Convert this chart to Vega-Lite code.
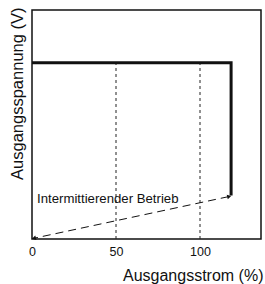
{
  "$schema": "https://vega.github.io/schema/vega-lite/v6.json",
  "width": 229,
  "height": 229,
  "autosize": {"type": "none"},
  "padding": {"left": 32, "top": 10, "right": 4, "bottom": 45},
  "background": "white",
  "config": {
    "font": "Liberation Sans",
    "view": {"stroke": "#111", "strokeWidth": 1.5}
  },
  "datasets": {
    "curve": [
      {"i": 0, "x": 0, "y": 77},
      {"i": 1, "x": 118.5, "y": 77},
      {"i": 2, "x": 118.5, "y": 19}
    ],
    "grid": [
      {"x": 50, "y0": 0, "y1": 77},
      {"x": 100, "y0": 0, "y1": 77}
    ],
    "intermittent": [
      {"i": 0, "x": 117, "y": 18.5},
      {"i": 1, "x": 1, "y": 0.3}
    ],
    "arrows": [
      {"x": 117, "y": 18.5, "angle": 77},
      {"x": 1.5, "y": 0.4, "angle": 257}
    ],
    "labels": [
      {"x": 3, "y": 17.5, "text": "Intermittierender Betrieb"}
    ]
  },
  "layer": [
    {
      "data": {"name": "grid"},
      "mark": {"type": "rule", "strokeDash": [3, 3], "strokeWidth": 1, "color": "#222"},
      "encoding": {
        "x": {"field": "x", "type": "quantitative", "scale": {"domain": [0, 136.3], "nice": false, "zero": false},
          "axis": {"values": [0, 50, 100], "grid": false, "ticks": false, "domain": false, "labelPadding": 6, "labelFontSize": 12.5, "labelColor": "#111", "labelFlush": false,
            "title": "Ausgangsstrom (%)", "titleFontSize": 16, "titleFontWeight": "normal", "titleColor": "#111", "titleAnchor": "end", "titleAlign": "right", "titleX": 231, "titleY": 41.5, "titleBaseline": "alphabetic"}},
        "y": {"field": "y0", "type": "quantitative", "scale": {"domain": [0, 100], "nice": false},
          "axis": {"labels": false, "ticks": false, "grid": false, "domain": false,
            "title": "Ausgangsspannung (V)", "titleFontSize": 16.5, "titleFontWeight": "normal", "titleColor": "#111", "titleAngle": -90, "titleAlign": "right", "titleBaseline": "alphabetic", "titleX": -10, "titleY": -3}},
        "y2": {"field": "y1"}
      }
    },
    {
      "data": {"name": "curve"},
      "mark": {"type": "line", "color": "#111", "strokeWidth": 3, "strokeJoin": "miter", "strokeCap": "butt"},
      "encoding": {
        "x": {"field": "x", "type": "quantitative"},
        "y": {"field": "y", "type": "quantitative"},
        "order": {"field": "i"}
      }
    },
    {
      "data": {"name": "intermittent"},
      "mark": {"type": "line", "color": "#111", "strokeWidth": 1, "strokeDash": [8, 5]},
      "encoding": {
        "x": {"field": "x", "type": "quantitative"},
        "y": {"field": "y", "type": "quantitative"},
        "order": {"field": "i"}
      }
    },
    {
      "data": {"name": "arrows"},
      "mark": {"type": "point", "shape": "triangle", "filled": true, "color": "#111", "size": 22, "opacity": 1},
      "encoding": {
        "x": {"field": "x", "type": "quantitative"},
        "y": {"field": "y", "type": "quantitative"},
        "angle": {"field": "angle", "type": "quantitative", "scale": null}
      }
    },
    {
      "data": {"name": "labels"},
      "mark": {"type": "text", "align": "left", "baseline": "middle", "fontSize": 13.2, "color": "#111"},
      "encoding": {
        "x": {"field": "x", "type": "quantitative"},
        "y": {"field": "y", "type": "quantitative"},
        "text": {"field": "text"}
      }
    }
  ]
}
